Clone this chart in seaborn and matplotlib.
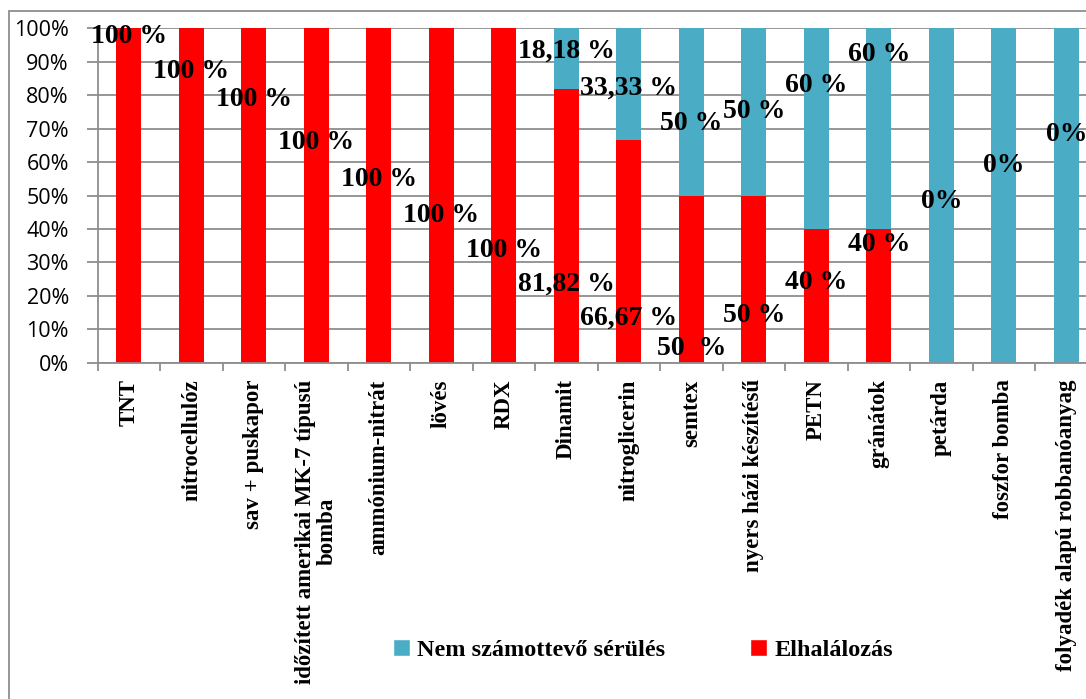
import numpy as np
import pandas as pd
import matplotlib
matplotlib.use("Agg")
import matplotlib.pyplot as plt
from matplotlib.patches import Rectangle, Patch
import seaborn as sns

categories = [
    "TNT", "nitrocellulóz", "sav + puskapor",
    "időzített amerikai MK-7 típusú\nbomba", "ammónium-nitrát", "lövés", "RDX",
    "Dinamit", "nitroglicerin", "semtex", "nyers házi készítésű", "PETN",
    "gránátok", "petárda", "foszfor bomba", "folyadék alapú robbanóanyag",
]
deaths = [100, 100, 100, 100, 100, 100, 100, 81.82, 66.67, 50, 50, 40, 40, 0, 0, 0]
minor_injury = [0, 0, 0, 0, 0, 0, 0, 18.18, 33.33, 50, 50, 60, 60, 100, 100, 100]

death_labels = ["100 %", "100 %", "100 %", "100 %", "100 %", "100 %", "100 %",
                "81,82 %", "66,67 %", "50  %", "50 %", "40 %", "40 %", "0%", "0%", "0%"]
minor_labels = [None, None, None, None, None, None, None,
                "18,18 %", "33,33 %", "50 %", "50 %", "60 %", "60 %", None, None, None]

# where Excel dropped the data labels (y in % units)
death_label_y = [97.4, 87.2, 78.6, 65.7, 54.7, 43.9, 33.7, 23.5, 13.4, 4.1,
                 14.0, 24.1, 35.2, 48.1, 59.1, 68.1]
minor_label_y = [None] * 7 + [93.2, 82.1, 71.4, 75.0, 83.0, 92.3] + [None] * 3

RED = "#FF0000"
BLUE = "#4BACC6"
GRID = "#8e8e8e"
SERIF = ["Liberation Serif", "DejaVu Serif"]

sns.set_theme(style="white")
plt.rcParams["font.family"] = ["Open Sans", "DejaVu Sans"]
plt.rcParams["text.color"] = "black"
plt.rcParams["xtick.color"] = "black"
plt.rcParams["ytick.color"] = "black"

df = pd.DataFrame({"cat": categories, "death": deaths, "minor": minor_injury})
df["total"] = df["death"] + df["minor"]

W, H = 1086, 699
fig = plt.figure(figsize=(W / 100, H / 100), dpi=100)
ax = fig.add_axes([97.7 / W, 1 - 362.7 / H, 1000 / W, (362.7 - 28.3) / H])

sns.barplot(data=df, x="cat", y="total", color=BLUE, width=0.4, saturation=1,
            errorbar=None, ax=ax, legend=False, linewidth=0, zorder=2)
sns.barplot(data=df, x="cat", y="death", color=RED, width=0.4, saturation=1,
            errorbar=None, ax=ax, legend=False, linewidth=0, zorder=2)

ax.set_xlim(-0.5, len(categories) - 0.5)
ax.set_ylim(0, 100)
ax.set_xlabel("")
ax.set_ylabel("")

ax.set_yticks(np.arange(0, 101, 10))
ax.set_yticklabels([f"{v}%" for v in range(0, 101, 10)])
ax.yaxis.grid(True, color=GRID, lw=1.3)
ax.set_axisbelow(True)
for s in ["top", "right"]:
    ax.spines[s].set_visible(False)
for s in ["left", "bottom"]:
    ax.spines[s].set_color(GRID)
    ax.spines[s].set_linewidth(1.3)
ax.tick_params(axis="y", length=7.7, width=1.3, color=GRID, labelcolor="black",
               pad=13, labelsize=15.5, left=True)

ax.set_xticks(range(len(categories)))
ax.set_xticks(np.arange(-0.5, len(categories)), minor=True)
ax.tick_params(axis="x", which="major", length=0, pad=12, labelcolor="black")
ax.tick_params(axis="x", which="minor", length=6, width=1.3, color=GRID, bottom=True)
ax.set_xticklabels(categories, rotation=90, va="top", ha="center",
                   fontfamily=SERIF, fontweight="bold", fontsize=16.5)
for t in ax.get_xticklabels():
    t.set_multialignment("center")
    t.set_linespacing(1.0)

for i in range(len(categories)):
    ax.text(i, death_label_y[i], death_labels[i], ha="center", va="center",
            fontfamily=SERIF, fontweight="bold", fontsize=20, clip_on=False, zorder=5)
    if minor_labels[i] is not None:
        ax.text(i, minor_label_y[i], minor_labels[i], ha="center", va="center",
                fontfamily=SERIF, fontweight="bold", fontsize=20, clip_on=False, zorder=5)

handles = [Patch(facecolor=BLUE, label="Nem számottevő sérülés"),
           Patch(facecolor=RED, label="Elhalálozás")]
fig.legend(handles=handles, loc="center", bbox_to_anchor=(643 / W, 1 - 650 / H),
           ncol=2, frameon=False, handlelength=0.7, handleheight=0.7,
           handletextpad=0.3, columnspacing=3.5, labelcolor="black",
           prop={"family": SERIF, "weight": "bold", "size": 17.5})

# outer chart frame (cut off on the right and bottom)
fig.add_artist(Rectangle((8.5 / W, -0.05), 1.2, 1.05 - 10.7 / H, transform=fig.transFigure,
                         fill=False, edgecolor=GRID, lw=1.3))

fig.savefig("out.png", dpi=100, facecolor="white")
